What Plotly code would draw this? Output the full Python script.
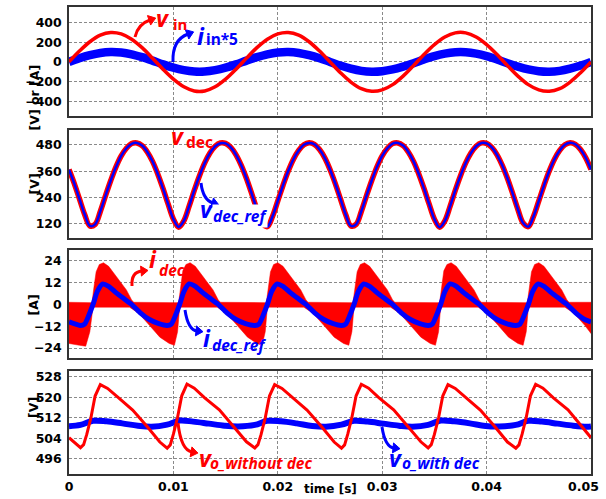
import plotly.graph_objects as go

# ---------------- data ----------------
# Panel 1: input voltage and 5x input current, 1 ms sampling
t_p1 = [round(0.001 * k, 3) for k in range(51)]
v_in = [0, 110, 205, 272, 299, 285, 231, 145, 38, -75,
        -176, -253, -295, -295, -253, -176, -75, 38, 145, 231,
        285, 299, 272, 205, 110, 0, -110, -205, -272, -299,
        -285, -231, -145, -38, 75, 176, 253, 295, 295, 253,
        176, 75, -38, -145, -231, -285, -299, -272, -205, -110, 0]
i_in_x5 = [0, 37, 68, 91, 100, 95, 77, 48, 13, -25,
           -59, -84, -98, -98, -84, -59, -25, 13, 48, 77,
           95, 100, 91, 68, 37, 0, -37, -68, -91, -100,
           -95, -77, -48, -13, 25, 59, 84, 98, 98, 84,
           59, 25, -13, -48, -77, -95, -100, -91, -68, -37, 0]

# Panel 2: decoupling capacitor voltage and its reference, 0.5 ms sampling
t_p2 = [round(0.0005 * k, 4) for k in range(101)]
v_dec = [368, 305, 234, 163, 111, 118, 177, 249, 318, 380,
         430, 465, 486, 489, 477, 448, 405, 348, 282, 210,
         142, 105, 134, 200, 273, 340, 398, 443, 474, 489,
         487, 469, 435, 387, 327, 258, 186, 124, 108, 155,
         225, 296, 361, 415, 455, 481, 490, 483, 459, 421,
         368, 305, 234, 163, 111, 118, 177, 249, 318, 380,
         430, 465, 486, 489, 477, 448, 405, 348, 282, 210,
         142, 105, 134, 200, 273, 340, 398, 443, 474, 489,
         487, 469, 435, 387, 327, 258, 186, 124, 108, 155,
         225, 296, 361, 415, 455, 481, 490, 483, 459, 421, 368]
v_dec_ref = [367, 305, 234, 164, 111, 118, 177, 249, 318, 379,
             430, 465, 485, 489, 477, 448, 405, 348, 282, 210,
             142, 106, 134, 200, 273, 340, 398, 443, 474, 488,
             487, 469, 435, 387, 327, 258, 186, 124, 108, 155,
             225, 296, 361, 415, 455, 481, 489, 483, 459, 421,
             368, 305, 234, 163, 111, 118, 177, 249, 318, 380,
             430, 465, 486, 489, 477, 448, 405, 348, 282, 210,
             142, 105, 134, 200, 273, 340, 398, 443, 474, 489,
             487, 469, 435, 387, 327, 258, 186, 124, 108, 155,
             225, 296, 361, 415, 455, 481, 490, 483, 459, 421, 368]

# Panel 3: decoupling current (switching band envelope) and its reference
t_idec_up = [0, 0.0022, 0.0024, 0.0026, 0.0029, 0.0033, 0.0038, 0.0045, 0.0055, 0.0060, 0.0062,
             0.0105, 0.0107, 0.0109, 0.0112, 0.0116, 0.0121, 0.0128, 0.0138, 0.0143, 0.0145,
             0.0189, 0.0191, 0.0193, 0.0196, 0.0200, 0.0205, 0.0212, 0.0222, 0.0227, 0.0229,
             0.0272, 0.0274, 0.0276, 0.0279, 0.0283, 0.0288, 0.0295, 0.0305, 0.0310, 0.0312,
             0.0355, 0.0357, 0.0359, 0.0362, 0.0366, 0.0371, 0.0378, 0.0388, 0.0393, 0.0395,
             0.0439, 0.0441, 0.0443, 0.0446, 0.0450, 0.0455, 0.0462, 0.0472, 0.0477, 0.0479,
             0.0500]
i_dec_up = [1.2, 1.0, 10, 18, 22, 23, 21, 15.5, 8, 2.5, 1.2,
            1.0, 10, 18.5, 22, 23, 21, 15.5, 8, 2.5, 1.2,
            1.0, 10, 18, 22, 23, 21, 15.5, 8, 2.5, 1.2,
            1.0, 10, 18, 22, 23, 21, 15.5, 8, 2.5, 1.2,
            1.0, 10, 18.5, 22, 23, 21, 15.5, 8, 2.5, 1.2,
            1.0, 10, 18, 22, 23, 21, 15.5, 8, 2.5, 1.2,
            1.2]
t_idec_lo = [0, 0.0010, 0.0016, 0.0020, 0.0023,
             0.0058, 0.0067, 0.0077, 0.0087, 0.0096, 0.0101, 0.0104, 0.0106,
             0.0142, 0.0151, 0.0161, 0.0171, 0.0180, 0.0185, 0.0188, 0.0190,
             0.0225, 0.0234, 0.0244, 0.0254, 0.0263, 0.0268, 0.0271, 0.0273,
             0.0308, 0.0317, 0.0327, 0.0337, 0.0346, 0.0351, 0.0354, 0.0356,
             0.0392, 0.0401, 0.0411, 0.0421, 0.0430, 0.0435, 0.0438, 0.0440,
             0.0475, 0.0484, 0.0494, 0.0500]
i_dec_lo = [-21.5, -22.5, -23, -15, -1.5,
            -1.5, -5, -11.5, -18, -21.5, -22.5, -15, -1.5,
            -1.5, -5, -11.5, -18, -21.5, -22.5, -15, -1.5,
            -1.5, -5, -11.5, -18, -21.5, -22.5, -15, -1.5,
            -1.5, -5, -11.5, -18, -21.5, -22.5, -15, -1.5,
            -1.5, -5, -11.5, -18, -21.5, -22.5, -15, -1.5,
            -1.5, -5, -11.5, -16]
t_idec_ref = [0, 0.0011, 0.0015, 0.0019, 0.0023, 0.0027, 0.0032, 0.0038, 0.0045, 0.0053, 0.0060, 0.0068, 0.0077, 0.0086,
              0.0094, 0.0098, 0.0102, 0.0106, 0.0110, 0.0115, 0.0121, 0.0128, 0.0136, 0.0143, 0.0151, 0.0160, 0.0169,
              0.0178, 0.0182, 0.0186, 0.0190, 0.0194, 0.0199, 0.0205, 0.0212, 0.0220, 0.0227, 0.0235, 0.0244, 0.0253,
              0.0261, 0.0265, 0.0269, 0.0273, 0.0277, 0.0282, 0.0288, 0.0295, 0.0303, 0.0310, 0.0318, 0.0327, 0.0336,
              0.0344, 0.0348, 0.0352, 0.0356, 0.0360, 0.0365, 0.0371, 0.0378, 0.0386, 0.0393, 0.0401, 0.0410, 0.0419,
              0.0428, 0.0432, 0.0436, 0.0440, 0.0444, 0.0449, 0.0455, 0.0462, 0.0470, 0.0477, 0.0485, 0.0494, 0.0500]
i_dec_ref = [-9.6, -11.6, -10.8, -6, 0, 7, 11.2, 10, 6.5, 3, 0, -4.5, -8.3, -10.6,
             -11.6, -10.8, -6, 0, 7, 11.3, 10, 6.5, 3, 0, -4.5, -8.3, -10.6,
             -11.6, -10.8, -6, 0, 7, 11.2, 10, 6.5, 3, 0, -4.5, -8.3, -10.6,
             -11.6, -10.8, -6, 0, 7, 11.2, 10, 6.5, 3, 0, -4.5, -8.3, -10.6,
             -11.6, -10.8, -6, 0, 7, 11.3, 10, 6.5, 3, 0, -4.5, -8.3, -10.6,
             -11.6, -10.8, -6, 0, 7, 11.2, 10, 6.5, 3, 0, -4.5, -8.3, -9.6]

# Panel 4: output voltage without / with decoupling
t_vo_wo = [0, 0.0011, 0.0014, 0.0017, 0.0021, 0.0025, 0.0030, 0.0037, 0.0047, 0.0061, 0.0075, 0.0087,
           0.0094, 0.0097, 0.0100, 0.0104, 0.0108, 0.0113, 0.0120, 0.0130, 0.0144, 0.0158, 0.0170,
           0.0178, 0.0181, 0.0184, 0.0188, 0.0192, 0.0197, 0.0204, 0.0214, 0.0228, 0.0242, 0.0254,
           0.0261, 0.0264, 0.0267, 0.0271, 0.0275, 0.0280, 0.0287, 0.0297, 0.0311, 0.0325, 0.0337,
           0.0344, 0.0347, 0.0350, 0.0354, 0.0358, 0.0363, 0.0370, 0.0380, 0.0394, 0.0408, 0.0420,
           0.0428, 0.0431, 0.0434, 0.0438, 0.0442, 0.0447, 0.0454, 0.0464, 0.0478, 0.0492, 0.0500]
v_o_without = [504.2, 500.3, 501.5, 505.5, 512, 520.5, 525, 523.5, 520, 515, 508.5, 502.5,
               500.1, 501.4, 505.6, 512.2, 520.6, 525.2, 523.6, 519.8, 515.1, 508.4, 502.6,
               500.2, 501.5, 505.5, 512, 520.5, 525, 523.5, 520, 515, 508.5, 502.5,
               500.1, 501.4, 505.6, 512.2, 520.6, 525.1, 523.6, 519.8, 515.1, 508.4, 502.6,
               500.2, 501.5, 505.5, 512, 520.5, 525, 523.5, 520, 515, 508.5, 502.5,
               500.1, 501.4, 505.6, 512.2, 520.6, 525.1, 523.6, 519.8, 515.1, 508.4, 504.2]
t_vo_w = [0, 0.0011, 0.0023, 0.0036, 0.0051, 0.0066, 0.0079,
          0.0094, 0.0106, 0.0119, 0.0134, 0.0149, 0.0162,
          0.0178, 0.0190, 0.0203, 0.0218, 0.0233, 0.0246,
          0.0261, 0.0273, 0.0286, 0.0301, 0.0316, 0.0329,
          0.0344, 0.0356, 0.0369, 0.0384, 0.0399, 0.0412,
          0.0428, 0.0440, 0.0453, 0.0468, 0.0483, 0.0496, 0.0500]
v_o_with = [508.7, 509.2, 510.8, 510.6, 509.8, 508.9, 508.5,
            509.3, 510.9, 510.5, 509.7, 508.9, 508.6,
            509.2, 510.8, 510.6, 509.8, 508.8, 508.5,
            509.3, 510.8, 510.5, 509.7, 508.9, 508.5,
            509.2, 510.9, 510.6, 509.8, 508.8, 508.6,
            509.2, 510.8, 510.5, 509.7, 508.9, 508.5, 508.6]

x_tickvals = [0, 0.01, 0.02, 0.03, 0.04]
x_ticktext = ["0", "0.01", "0.02", "0.03", "0.04"]
x_last_tick = "0.05"   # drawn pulled in from the right edge, as in the source
y1_ticks = [-400, -200, 0, 200, 400]
y2_ticks = [120, 240, 360, 480]
y3_ticks = [-24, -12, 0, 12, 24]
y4_ticks = [496, 504, 512, 520, 528]

# ---------------- figure ----------------
RED = "#ff0000"
BLUE = "#0000ff"
FONT = "DejaVu Sans"
LFONT = "Noto Sans"

fig = go.Figure()

# panel 1
fig.add_trace(go.Scatter(x=t_p1, y=i_in_x5, mode="lines", line=dict(color=BLUE, width=8.5, shape="spline"),
                         xaxis="x", yaxis="y"))
fig.add_trace(go.Scatter(x=t_p1, y=v_in, mode="lines", line=dict(color=RED, width=3.5, shape="spline"),
                         xaxis="x", yaxis="y"))
# panel 2
fig.add_trace(go.Scatter(x=t_p2, y=v_dec, mode="lines", line=dict(color=RED, width=5.5, shape="spline"),
                         xaxis="x2", yaxis="y2"))
fig.add_trace(go.Scatter(x=t_p2, y=v_dec_ref, mode="lines", line=dict(color=BLUE, width=2.5, shape="spline"),
                         xaxis="x2", yaxis="y2"))
# panel 3
poly_x = t_idec_up + t_idec_lo[::-1]
poly_y = i_dec_up + i_dec_lo[::-1]
fig.add_trace(go.Scatter(x=poly_x, y=poly_y, mode="lines", fill="toself", fillcolor=RED,
                         line=dict(color=RED, width=0.5), xaxis="x3", yaxis="y3"))
fig.add_trace(go.Scatter(x=t_idec_ref, y=i_dec_ref, mode="lines",
                         line=dict(color=BLUE, width=5, shape="spline", smoothing=0.6),
                         xaxis="x3", yaxis="y3"))
# panel 4
fig.add_trace(go.Scatter(x=t_vo_w, y=v_o_with, mode="lines", line=dict(color=BLUE, width=6, shape="spline"),
                         xaxis="x4", yaxis="y4"))
fig.add_trace(go.Scatter(x=t_vo_wo, y=v_o_without, mode="lines", line=dict(color=RED, width=3),
                         xaxis="x4", yaxis="y4"))

L, R, T, B = 69, 15, 7, 25
W, H = 606, 499
PW, PH = W - L - R, H - T - B


def px(x):
    return (x - L) / PW


def py(y):
    return (H - B - y) / PH


tickfont = dict(family=FONT, size=12.5, color="black", weight="bold")
common_axis = dict(showline=True, mirror=True, linecolor="#333333", linewidth=1.5,
                   showgrid=True, gridcolor="#8a8a8a", gridwidth=1, griddash="3px,2px",
                   zeroline=False, ticks="", tickfont=tickfont, automargin=False)

domains = [(py(116), py(7)), (py(238), py(130)), (py(358), py(250)), (py(474), py(371))]
yranges = [[-550, 558], [56, 548], [-29.5, 30], [490, 530.3]]
yticks = [y1_ticks, y2_ticks, y3_ticks, y4_ticks]

layout = dict(width=W, height=H, autosize=False, margin=dict(l=L, r=R, t=T, b=B),
              paper_bgcolor="white", plot_bgcolor="white", showlegend=False)
for i in range(4):
    sx = "" if i == 0 else str(i + 1)
    xa = dict(common_axis, domain=[0, 1], anchor="y" + sx, range=[0, 0.05],
              tickvals=x_tickvals, ticktext=x_ticktext, showticklabels=(i == 3))
    if i > 0:
        xa["matches"] = "x"
    ya = dict(common_axis, domain=list(domains[i]), anchor="x" + sx, range=yranges[i],
              tickvals=yticks[i], ticklabelstandoff=3)
    layout["xaxis" + sx] = xa
    layout["yaxis" + sx] = ya
fig.update_layout(**layout)

ann = []
# axis titles
for text, yc in [("[V] or [A]", 63), ("[V]", 184), ("[A]", 305), ("[V]", 420)]:
    ann.append(dict(text=text, x=px(24), y=py(yc), xref="paper", yref="paper", showarrow=False,
                    textangle=-90, font=dict(family=FONT, size=12.5, color="black", weight="bold")))
ann.append(dict(text="time [s]", x=0.5, y=py(481), xref="paper", yref="paper", yanchor="top",
                showarrow=False, borderpad=0,
                font=dict(family=FONT, size=12, color="black", weight="bold")))
# last x tick label, pulled inside the page edge
ann.append(dict(text=x_last_tick, x=px(583), y=py(486), xref="paper", yref="paper",
                xanchor="center", yanchor="middle", showarrow=False, font=tickfont))

# label pieces: text, colour, left x (px), baseline y (px), size, italic, background
label_parts = [
    ("v", RED, 154, 27, 23, True, None),
    ("in", RED, 171, 30, 15, False, None),
    ("i", BLUE, 195, 45, 23, True, None),
    ("in*5", BLUE, 204, 45, 15.5, False, None),
    ("v", RED, 169, 145, 23, True, None),
    ("dec", RED, 184, 148, 15.5, False, None),
    ("v", BLUE, 198, 218, 23, True, None),
    ("dec_ref", BLUE, 212, 222, 15.5, True, "white"),
    ("i", RED, 147, 268, 23, True, None),
    ("dec", RED, 157, 276, 15.5, True, None),
    ("i", BLUE, 201, 347, 23, True, None),
    ("dec_ref", BLUE, 210, 351, 15.5, True, None),
    ("v", RED, 197, 467, 23, True, None),
    ("o_without dec", RED, 208, 469, 15.5, True, None),
    ("v", BLUE, 387, 467, 23, True, None),
    ("o_with dec", BLUE, 400, 469, 15.5, True, None),
]
for text, col, xl, yb, size, ital, bg in label_parts:
    yc = yb - 0.388 * size  # centre of text box from baseline
    a = dict(text=text, x=px(xl), y=py(yc), xref="paper", yref="paper", showarrow=False,
             xanchor="left", yanchor="middle",
             font=dict(family=LFONT, size=size, color=col, weight="bold",
                       style="italic" if ital else "normal"))
    if bg:
        a["bgcolor"] = bg
        a["borderpad"] = 0
    ann.append(a)

# curved arrows: (start, control, head) in pixels; head drawn as a filled triangle
arrows = [
    (RED, (135, 37), (138, 24), (150, 20)),
    (BLUE, (173, 62), (172, 40), (188, 34)),
    (BLUE, (201, 183), (203, 200), (213, 203)),
    (RED, (132, 286), (131, 272), (142, 271)),
    (BLUE, (185, 310), (188, 330), (197, 331)),
    (RED, (178, 423), (181, 450), (192, 452)),
    (BLUE, (382, 427), (385, 447), (394, 448)),
]
shapes = []
for col, p0, c, p1 in arrows:
    path = "M {},{} Q {},{} {},{}".format(px(p0[0]), py(p0[1]), px(c[0]), py(c[1]), px(p1[0]), py(p1[1]))
    shapes.append(dict(type="path", path=path, xref="paper", yref="paper",
                       line=dict(color=col, width=3)))
    dx, dy = p1[0] - c[0], p1[1] - c[1]
    n = (dx * dx + dy * dy) ** 0.5
    ux, uy = dx / n, dy / n
    tip = (p1[0] + ux * 6, p1[1] + uy * 6)
    b1 = (p1[0] - ux * 1 - uy * 5, p1[1] - uy * 1 + ux * 5)
    b2 = (p1[0] - ux * 1 + uy * 5, p1[1] - uy * 1 - ux * 5)
    tri = "M {},{} L {},{} L {},{} Z".format(px(tip[0]), py(tip[1]), px(b1[0]), py(b1[1]),
                                             px(b2[0]), py(b2[1]))
    shapes.append(dict(type="path", path=tri, xref="paper", yref="paper",
                       fillcolor=col, line=dict(color=col, width=1)))

fig.update_layout(annotations=ann, shapes=shapes)
fig.write_html("out.html", config={"displayModeBar": False},
               post_script="document.body.style.margin='0';")
